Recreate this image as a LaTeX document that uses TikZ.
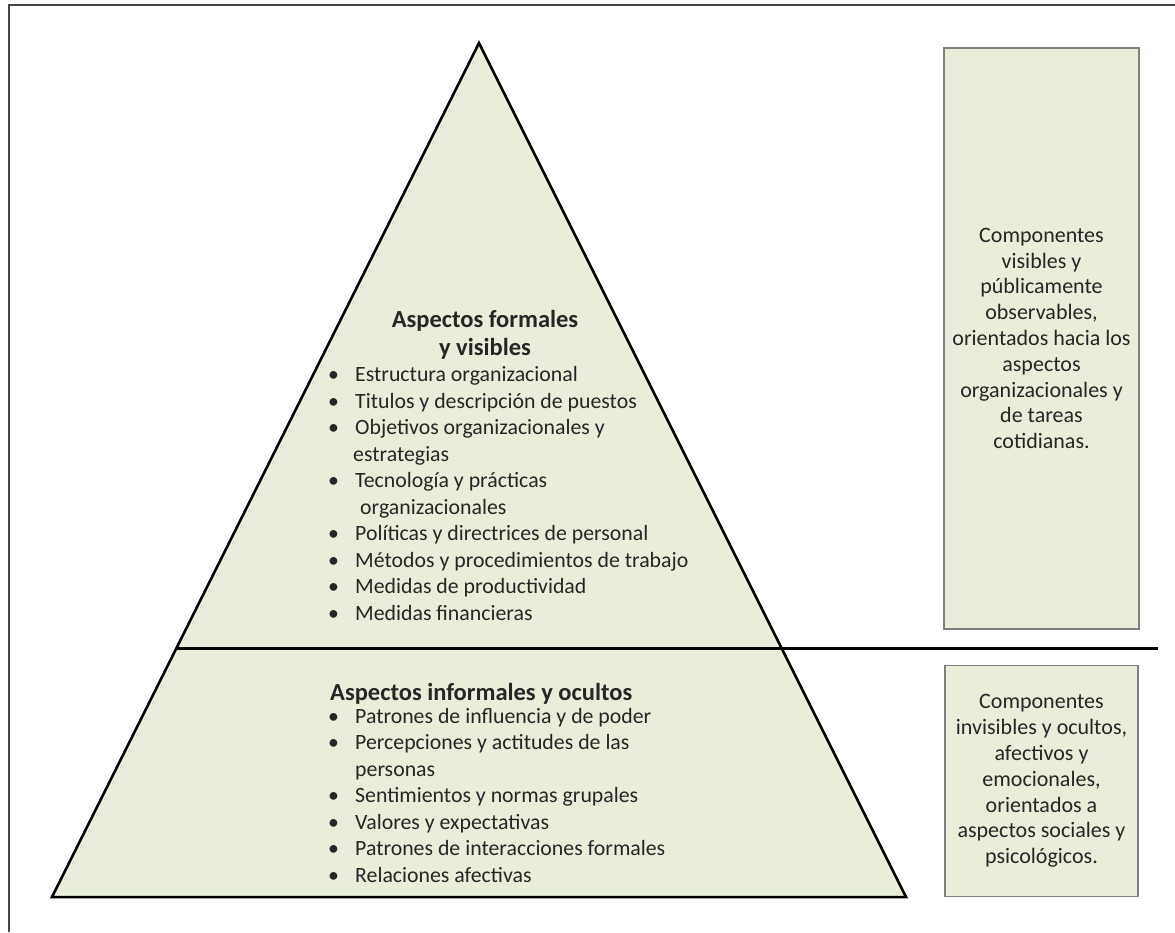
\documentclass[tikz,border=0pt]{standalone}
\usepackage{fontspec}
\setmainfont{Carlito}
\definecolor{fillg}{HTML}{E8EEDA}
\definecolor{txt}{HTML}{262626}
\definecolor{frame}{HTML}{454545}
\definecolor{boxline}{HTML}{7F7F7F}
\tikzset{
  pyr/.style={draw=black, line width=2.5pt, fill=fillg, line join=miter},
  sidebox/.style={draw=boxline, line width=1.6pt, fill=fillg, rectangle, inner sep=0pt},
  listtext/.style={anchor=base west, align=left, text=txt, inner sep=0pt, font=\fontsize{21.8}{26.45}\selectfont},
  boxtext/.style={anchor=center, align=center, text=txt, inner sep=0pt, font=\fontsize{22}{25.8}\selectfont},
  titletext/.style={text=txt, inner sep=0pt, font=\fontsize{24.5}{28}\selectfont\bfseries},
}
\newcommand{\bul}{\makebox[27pt][l]{\textbullet}}
\newcommand{\cont}{\hspace*{25pt}}
\begin{document}
\begin{tikzpicture}[x=1pt,y=-1pt]
\useasboundingbox (0,0) rectangle (1175,932);
% frame
\draw[frame, line width=2.5pt] (9,932) -- (9,5) -- (1175,5);
% pyramid
\coordinate (apex) at (479,43);
\coordinate (bl) at (52,897);
\coordinate (br) at (906,897);
\draw[pyr] (apex) -- (br) -- (bl) -- cycle;
\coordinate (hl) at (176.5,648);
\coordinate (hr) at (1158,648);
\draw[black, line width=3pt] (hl) -- (hr);
% side boxes
\node[sidebox, minimum width=195pt, minimum height=581pt] (box1) at (1041.5,338.5) {};
\node[sidebox, minimum width=193pt, minimum height=231pt] (box2) at (1041.5,781) {};
% titles
\node[titletext, anchor=base, align=center] (title1) at (485,355) {Aspectos formales\\y visibles};
\node[titletext, anchor=base west] (title2) at (330,700) {Aspectos informales y ocultos};
% lists
\node[listtext] (list1) at (328,620) {\bul Estructura organizacional\\
\bul Titulos y descripción de puestos\\
\bul Objetivos organizacionales y\\
\hspace*{25pt}estrategias\\
\bul Tecnología y prácticas\\
\hspace*{32pt}organizacionales\\
\bul Políticas y directrices de personal\\
\bul Métodos y procedimientos de trabajo\\
\bul Medidas de productividad\\
\bul Medidas financieras};
\node[listtext] (list2) at (328,882) {\bul Patrones de influencia y de poder\\
\bul Percepciones y actitudes de las\\
\hspace*{27pt}personas\\
\bul Sentimientos y normas grupales\\
\bul Valores y expectativas\\
\bul Patrones de interacciones formales\\
\bul Relaciones afectivas};
% box texts
\node[boxtext] (text1) at (box1.center) {Componentes\\visibles y\\públicamente\\observables,\\orientados hacia los\\aspectos\\organizacionales y\\de tareas\\cotidianas.};
\node[boxtext] (text2) at (box2.center) {Componentes\\invisibles y ocultos,\\afectivos y\\emocionales,\\orientados a\\aspectos sociales y\\psicológicos.};
\end{tikzpicture}
\end{document}
